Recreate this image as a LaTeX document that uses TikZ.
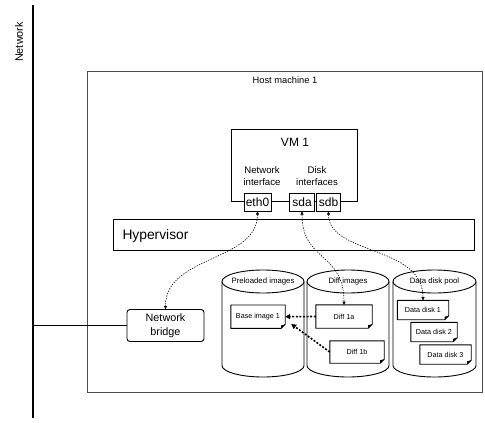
\documentclass[tikz,border=0pt]{standalone}
\usepackage{fontspec}
\setmainfont{Liberation Sans}
\usetikzlibrary{arrows.meta}

% outline of a document node with a folded bottom-right corner
\newcommand\docoutline[1]{%
  \draw[docline] (#1.north west) -- (#1.north east) -- ([yshift=4pt]#1.south east)
    -- ([xshift=-4pt]#1.south east) -- (#1.south west) -- cycle;
  \fill ([yshift=4pt]#1.south east) -- ([xshift=-4pt]#1.south east)
    -- ([xshift=-4pt,yshift=3pt]#1.south east) -- cycle;}

% storage cylinder: left x, right x, top centre y, bottom centre y
\newcommand\storecyl[4]{%
  \pgfmathsetmacro\cylrx{(#2-#1)/2}%
  \pgfmathsetmacro\cylcx{(#1+#2)/2}%
  \draw[cylline] (#1,#3) -- (#1,#4)
    arc[start angle=180,end angle=360,x radius=\cylrx pt,y radius=11.5pt] -- (#2,#3);
  \draw[cylline] (\cylcx,#3) ellipse[x radius=\cylrx pt,y radius=11.5pt];}

\begin{document}
\begin{tikzpicture}[x=1pt,y=-1pt,
  box/.style={draw, line width=0.9pt, fill=white, inner sep=0pt},
  port/.style={box, minimum height=18pt, font=\fontsize{12}{14}\selectfont},
  docbox/.style={inner sep=0pt, font=\fontsize{7.2}{9}\selectfont},
  docline/.style={line width=0.9pt, fill=white},
  cylline/.style={line width=0.9pt, fill=white},
  cyltitle/.style={font=\fontsize{7.8}{9}\selectfont},
  smalltext/.style={font=\fontsize{9.6}{12}\selectfont, align=center},
  link/.style={dash pattern=on 1.3pt off 1.3pt, line width=0.6pt,
    {Triangle[length=3.2pt,width=3.2pt]}-{Triangle[length=3.2pt,width=3.2pt]}},
  copyarrow/.style={dash pattern=on 2pt off 1.6pt, line width=1.6pt,
    -{Triangle[length=5pt,width=5pt]}},
]
\useasboundingbox (0,0) rectangle (485,423);

% network segment
\coordinate (nettop) at (33,5);
\coordinate (netbot) at (33,418);
\draw[line width=1.2pt] (nettop) -- (netbot);
\node[rotate=90, font=\fontsize{10.8}{12}\selectfont] (netlabel) at (19,42) {Network};

% host machine
\node[draw=black!70, line width=1.1pt, inner sep=0pt, anchor=north west,
      minimum width=395pt, minimum height=321pt] (host) at (87,71) {};
\node[font=\fontsize{9.3}{11}\selectfont] (hostlabel) at (285,80) {Host machine 1};

% virtual machine
\node[box, anchor=north west, minimum width=126pt, minimum height=72pt] (vm) at (231,129) {};
\node[font=\fontsize{12}{14}\selectfont] (vmlabel) at (295,142) {VM 1};
\node[smalltext] (nilabel) at (262,176) {Network\\interface};
\node[smalltext] (dilabel) at (317,176) {Disk\\interfaces};
\node[port, minimum width=27pt] (eth0) at (257.5,202) {eth0};
\node[port, minimum width=25pt] (sda) at (302,202) {sda};
\node[port, minimum width=23.5pt] (sdb) at (328.5,202) {sdb};

% hypervisor
\node[box, anchor=north west, minimum width=361pt, minimum height=31pt] (hyp) at (113,219) {};
\node[anchor=west, font=\fontsize{13.8}{16}\selectfont] (hyplabel) at (119,236) {Hypervisor};

% network bridge
\node[box, rounded corners=3pt, minimum width=77pt, minimum height=32pt, align=center,
      font=\fontsize{10.8}{14}\selectfont] (bridge) at (165.5,325.5) {Network\\bridge};
\draw[line width=0.9pt] (bridge.west) -- (bridge.west -| nettop);

% storage pools
\storecyl{222}{304}{281.5}{365.5}
\storecyl{307}{389}{281.5}{365.5}
\storecyl{393}{476}{281.5}{365.5}
\node[cyltitle] (pretitle) at (263,281.5) {Preloaded images};
\node[cyltitle] (difftitle) at (348,281.5) {Diff images};
\node[cyltitle] (pooltitle) at (434.5,281.5) {Data disk pool};

% disk images
\node[docbox, minimum width=54pt, minimum height=23pt] (base) at (258,316.7) {};
\docoutline{base}
\node[docbox] at (base) {Base image 1};
\node[docbox, minimum width=56pt, minimum height=23pt] (diffa) at (344,316.5) {};
\docoutline{diffa}
\node[docbox] at (diffa) {Diff 1a};
\node[docbox, minimum width=54pt, minimum height=22pt] (diffb) at (357,352) {};
\docoutline{diffb}
\node[docbox] at (diffb) {Diff 1b};
\node[docbox, minimum width=51pt, minimum height=19pt] (disk1) at (423,310) {};
\docoutline{disk1}
\node[docbox] at (disk1) {Data disk 1};
\node[docbox, minimum width=46pt, minimum height=19pt] (disk2) at (434,332) {};
\docoutline{disk2}
\node[docbox] at (disk2) {Data disk 2};
\node[docbox, minimum width=51pt, minimum height=19pt] (disk3) at (445.5,354.5) {};
\docoutline{disk3}
\node[docbox] at (disk3) {Data disk 3};

% device mappings
\draw[link] (eth0.south) .. controls (257.5,262) and (165.5,255) .. (bridge.north);
\draw[link] (sda.south) .. controls (302,262) and (344,252) .. (diffa.north);
\draw[link] (sdb.south) .. controls (328.5,255) and (423,245) .. (disk1.north);

% copy-on-write chain
\draw[copyarrow] (diffa.west) -- (base.east);
\draw[copyarrow] (diffb.west) -- ([xshift=6pt,yshift=-7.3pt]base.east);
\end{tikzpicture}
\end{document}
